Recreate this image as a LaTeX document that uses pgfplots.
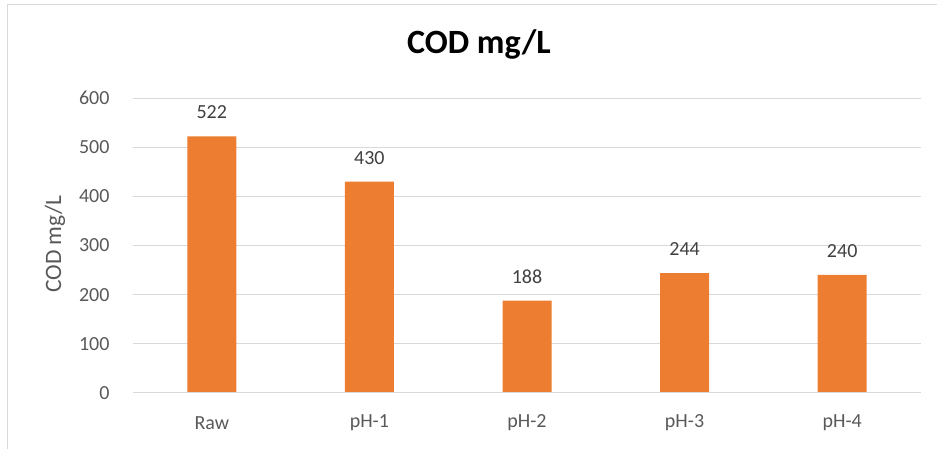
\documentclass[border=0pt]{standalone}
\usepackage{pgfplots}
\pgfplotsset{compat=1.18}
\usepackage{fontspec}
\setmainfont{Carlito}
\definecolor{barc}{HTML}{ED7D31}
\definecolor{tickc}{HTML}{595959}
\definecolor{labc}{HTML}{404040}
\definecolor{gridc}{HTML}{D9D9D9}
\begin{document}
\begin{tikzpicture}[x=1pt,y=1pt]
\path[use as bounding box] (0,0) rectangle (937,449);
\draw[gridc, line width=1pt] (7.5,0) -- (7.5,444.5) -- (937,444.5);
\begin{axis}[
  at={(133pt,56pt)}, anchor=south west,
  scale only axis, width=788pt, height=295pt,
  xmin=-0.5, xmax=4.5, ymin=0, ymax=600,
  ytick={0,100,...,600},
  xtick=data, xticklabels={Raw,pH-1,pH-2,pH-3,pH-4},
  axis line style={draw=none},
  major tick length=0pt,
  ymajorgrids, grid style={gridc, line width=1pt},
  tick label style={font=\fontsize{20}{24}\selectfont, color=tickc},
  /pgf/number format/assume math mode=true,
  xticklabel style={anchor=center, yshift=-30pt},
  yticklabel style={anchor=east, xshift=-20pt},
  ylabel={COD mg/L},
  ylabel style={font=\fontsize{23.5}{28}\selectfont, color=tickc, at={(axis description cs:-0.099,0.505)}, anchor=center},
  title={\textbf{COD mg/L}},
  title style={font=\fontsize{34}{40}\selectfont, at={(axis description cs:0.5,1)}, anchor=center, yshift=48pt, xshift=-48pt},
  nodes near coords,
  every node near coord/.append style={font=\fontsize{20}{24}\selectfont, color=labc, anchor=center, yshift=24pt},
]
\addplot[ybar, bar width=49pt, fill=barc, draw=none] coordinates {(0,522) (1,430) (2,188) (3,244) (4,240)};
\draw[gridc, line width=1pt] (axis cs:-0.5,0) -- (axis cs:4.5,0);
\end{axis}
\end{tikzpicture}
\end{document}
